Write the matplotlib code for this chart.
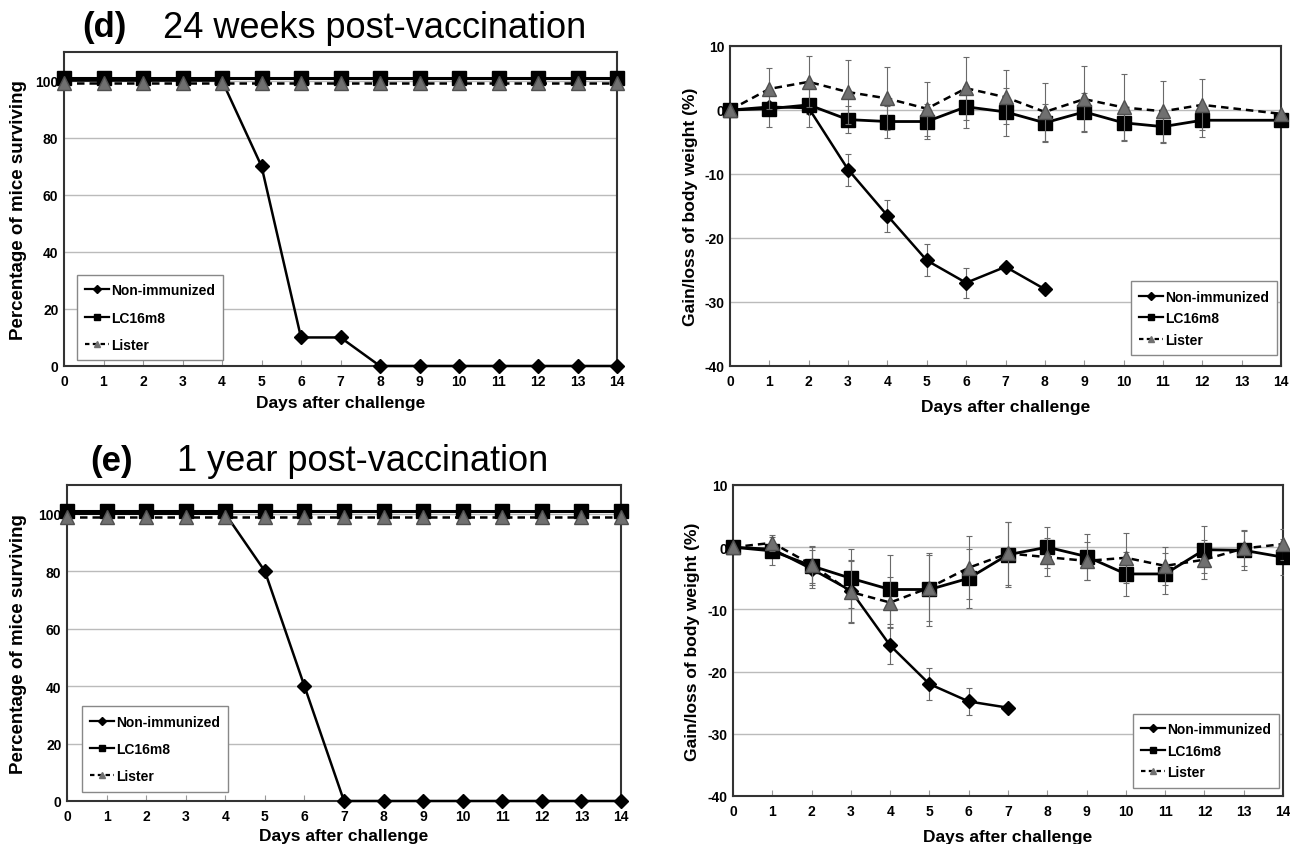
import matplotlib
matplotlib.use('Agg')
import matplotlib.pyplot as plt
from matplotlib.lines import Line2D

plt.rcParams['font.family'] = ['Liberation Sans', 'DejaVu Sans']
plt.rcParams['font.weight'] = 'bold'
plt.rcParams['axes.labelweight'] = 'bold'
plt.rcParams['axes.unicode_minus'] = False

# ---------------- data ----------------
days = list(range(15))
day_labels = [str(d) for d in days]
series_names = ['Non-immunized', 'LC16m8', 'Lister']

# (d) 24 weeks: survival (%)
surv_d_non = [100, 100, 100, 100, 100, 70, 10, 10, 0, 0, 0, 0, 0, 0, 0]
surv_d_lc = [101] * 15
surv_d_lis = [99] * 15

# (e) 1 year: survival (%)
surv_e_non = [100, 100, 100, 100, 100, 80, 40, 0, 0, 0, 0, 0, 0, 0, 0]
surv_e_lc = [101] * 15
surv_e_lis = [99] * 15

# (d) body weight change (%)
wt_d_non_days = [0, 1, 2, 3, 4, 5, 6, 7, 8]
wt_d_non = [0, 0.5, 0.3, -9.3, -16.5, -23.5, -27.0, -24.5, -28.0]
wt_d_non_err = [0, 0.8, 1.0, 2.5, 2.5, 2.5, 2.3, 0.3, 0]
wt_d_days = [0, 1, 2, 3, 4, 5, 6, 7, 8, 9, 10, 11, 12, 14]
wt_d_lc = [0, 0.2, 0.8, -1.5, -1.8, -1.8, 0.5, -0.3, -2.0, -0.3, -2.0, -2.6, -1.6, -1.6]
wt_d_lc_err = [0, 2.9, 3.5, 2.1, 2.5, 2.8, 3.3, 3.7, 3.0, 3.0, 2.7, 2.6, 2.6, 0.3]
wt_d_lis = [0, 3.3, 4.4, 2.8, 1.8, 0.2, 3.4, 2.0, -0.3, 1.7, 0.4, -0.2, 0.8, -0.6]
wt_d_lis_err = [0, 3.2, 4.0, 5.0, 4.9, 4.2, 4.9, 4.2, 4.5, 5.1, 5.2, 4.8, 4.0, 0.3]

# (e) body weight change (%)
wt_e_non_days = [0, 1, 2, 3, 4, 5, 6, 7]
wt_e_non = [0, -0.3, -3.5, -7.0, -15.8, -22.0, -24.8, -25.8]
wt_e_non_err = [0, 1.0, 3.0, 5.0, 3.0, 2.5, 2.2, 0.3]
wt_e_days = list(range(15))
wt_e_lc = [0, -0.6, -3.0, -5.0, -6.8, -6.8, -5.0, -1.2, 0.0, -1.5, -4.3, -4.3, -0.4, -0.5, -1.6]
wt_e_lc_err = [0, 2.3, 3.0, 4.7, 5.5, 5.8, 4.7, 5.2, 3.3, 3.7, 3.5, 3.3, 3.8, 3.2, 2.9]
wt_e_lis = [0, 0.7, -2.8, -7.2, -8.9, -6.5, -3.3, -1.0, -1.6, -2.2, -1.7, -3.0, -2.0, -0.2, 0.5]
wt_e_lis_err = [0, 1.3, 3.0, 5.0, 4.1, 5.3, 5.1, 5.0, 3.0, 3.1, 4.0, 3.1, 3.1, 2.8, 2.5]

surv_yticks = [0, 20, 40, 60, 80, 100]
wt_yticks = [-40, -30, -20, -10, 0, 10]

# ---------------- figure ----------------
W, H = 1290, 845
fig = plt.figure(figsize=(W / 100, H / 100), dpi=100)


def rect(l, r, t, b):
    return [l / W, 1 - b / H, (r - l) / W, (b - t) / H]


axA = fig.add_axes(rect(64, 617, 53, 367))
axB = fig.add_axes(rect(730, 1281, 47, 367))
axC = fig.add_axes(rect(67, 621, 486, 802))
axD = fig.add_axes(rect(733, 1283, 486, 797))

TRI_FC = '#707070'
TRI_EC = '#505050'


def style(ax, ylim, yticks):
    ax.set_xlim(0, 14)
    ax.set_ylim(*ylim)
    ax.set_xticks(days)
    ax.set_xticklabels(day_labels)
    ax.set_yticks(yticks)
    ax.set_yticklabels([str(v) for v in yticks])
    ax.tick_params(axis='x', direction='in', length=4, width=0.8, color='#999999',
                   pad=6, labelsize=10)
    ax.tick_params(axis='y', length=0, pad=4, labelsize=10)
    for s in ax.spines.values():
        s.set_color('#333333')
        s.set_linewidth(1.5)
    ax.yaxis.grid(True, color='#bbbbbb', linewidth=1.0)
    ax.set_axisbelow(True)


def legend(ax, loc, anchor, spacing):
    handles = [
        Line2D([], [], color='black', lw=1.6, marker='D', ms=4),
        Line2D([], [], color='black', lw=1.6, marker='s', ms=5),
        Line2D([], [], color='black', lw=1.6, ls=(0, (2, 1.5)), marker='^', ms=5,
               mfc=TRI_FC, mec=TRI_FC),
    ]
    leg = ax.legend(handles, series_names, loc=loc, bbox_to_anchor=anchor,
                    borderaxespad=0, fancybox=False, edgecolor='#888888',
                    framealpha=1, fontsize=10, handlelength=1.7,
                    handletextpad=0.15, labelspacing=spacing, borderpad=0.6)
    leg.get_frame().set_linewidth(1.0)


def survival(ax, non, lc, lis):
    ax.plot(days, non, color='black', lw=1.8, marker='D', ms=7.5, zorder=3, clip_on=False)
    ax.plot(days, lc, color='black', lw=2.2, marker='s', ms=9.5, zorder=4, clip_on=False)
    ax.plot(days, lis, color='black', lw=1.8, ls=(0, (3, 2)), marker='^', ms=10,
            mfc=TRI_FC, mec=TRI_EC, zorder=5, clip_on=False)
    style(ax, (0, 110), surv_yticks)
    ax.set_ylabel('Percentage of mice surviving', fontsize=13.5, fontweight='bold')
    ax.set_xlabel('Days after challenge', fontsize=12.5, fontweight='bold')


def weight(ax, ndays, non, nerr, sdays, lc, lcerr, lis, liserr):
    ekw = dict(ecolor='#6a6a6a', elinewidth=0.8, capsize=2, capthick=0.8)
    e1 = ax.errorbar(ndays, non, yerr=nerr, color='black', lw=1.8, marker='D', ms=7.5,
                     zorder=3, **ekw)
    e2 = ax.errorbar(sdays, lc, yerr=lcerr, color='black', lw=2.0, marker='s', ms=9.5,
                     zorder=4, **ekw)
    e3 = ax.errorbar(sdays, lis, yerr=liserr, color='black', lw=1.8, ls=(0, (3, 2)),
                     marker='^', ms=10, mfc=TRI_FC, mec=TRI_EC, zorder=5, **ekw)
    for e in (e1, e2, e3):
        e[0].set_clip_on(False)
    style(ax, (-40, 10), wt_yticks)
    ax.set_ylabel('Gain/loss of body weight (%)', fontsize=12.5, fontweight='bold')
    ax.set_xlabel('Days after challenge', fontsize=12.5, fontweight='bold')


survival(axA, surv_d_non, surv_d_lc, surv_d_lis)
survival(axC, surv_e_non, surv_e_lc, surv_e_lis)
weight(axB, wt_d_non_days, wt_d_non, wt_d_non_err, wt_d_days, wt_d_lc, wt_d_lc_err,
       wt_d_lis, wt_d_lis_err)
weight(axD, wt_e_non_days, wt_e_non, wt_e_non_err, wt_e_days, wt_e_lc, wt_e_lc_err,
       wt_e_lis, wt_e_lis_err)

legend(axA, 'lower left', (0.0235, 0.019), 0.95)
legend(axC, 'lower left', (0.027, 0.03), 0.95)
legend(axB, 'lower right', (0.993, 0.034), 0.55)
legend(axD, 'lower right', (0.993, 0.027), 0.55)

axA.yaxis.set_label_coords(-0.067, 0.5)
axB.yaxis.set_label_coords(-0.058, 0.5)
axC.yaxis.set_label_coords(-0.072, 0.5)
axD.yaxis.set_label_coords(-0.060, 0.5)
axA.xaxis.set_label_coords(0.5, -0.092)
axB.xaxis.set_label_coords(0.5, -0.103)
axC.xaxis.set_label_coords(0.5, -0.085)
axD.xaxis.set_label_coords(0.5, -0.106)

# panel titles
fig.text(82 / W, 1 - 28 / H, '(d)', fontsize=25, fontweight='bold', va='center', ha='left')
fig.text(163 / W, 1 - 28 / H, '24 weeks post-vaccination', fontsize=26,
         fontweight='normal', va='center', ha='left')
fig.text(90 / W, 1 - 462 / H, '(e)', fontsize=25, fontweight='bold', va='center', ha='left')
fig.text(177 / W, 1 - 462 / H, '1 year post-vaccination', fontsize=26,
         fontweight='normal', va='center', ha='left')

fig.savefig('out.png', dpi=100, facecolor='white')
